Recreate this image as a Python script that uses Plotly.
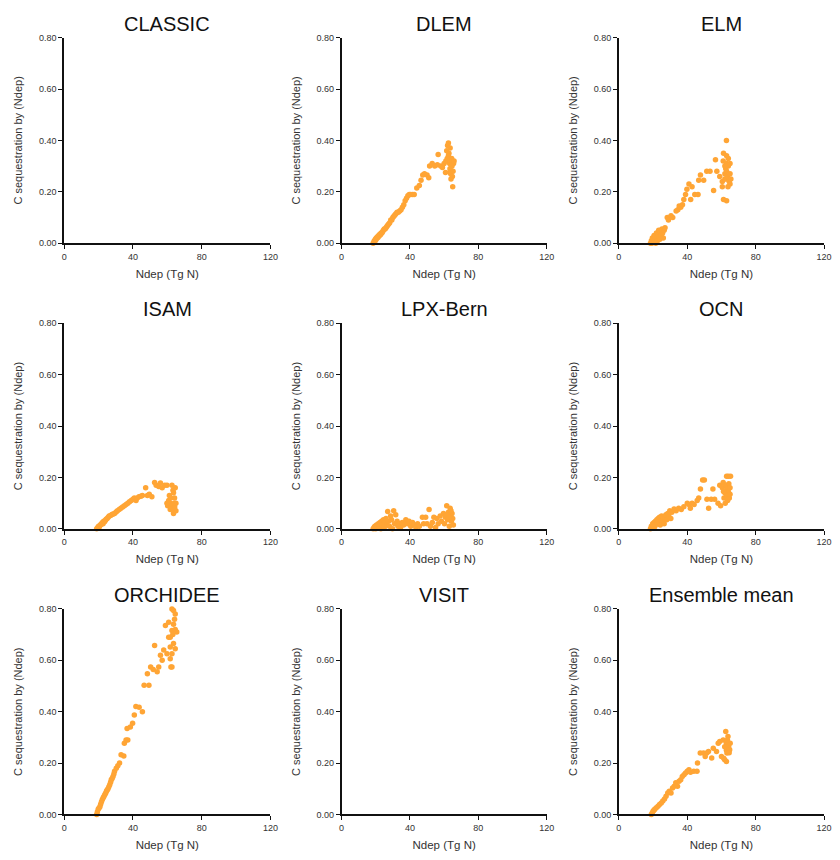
import plotly.graph_objects as go

# ---------------- data ----------------
MODELS = ["CLASSIC", "DLEM", "ELM", "ISAM", "LPX-Bern", "OCN", "ORCHIDEE", "VISIT", "Ensemble mean"]

X_TICKS = [0, 40, 80, 120]
Y_TICKS = [0.0, 0.2, 0.4, 0.6, 0.8]

CLASSIC = []
VISIT = []

DLEM = [(18.5, 0.0), (19.0, 0.005), (19.2, 0.01), (19.5, 0.008), (19.8, 0.015), (20.0, 0.012),
        (20.3, 0.02), (20.6, 0.018), (21.0, 0.025), (21.3, 0.022), (21.7, 0.03), (22.0, 0.028),
        (22.4, 0.035), (22.8, 0.033), (23.2, 0.04), (23.6, 0.04), (24.0, 0.045), (24.5, 0.05),
        (25.0, 0.055), (25.5, 0.055), (26.0, 0.06), (26.5, 0.065), (27.0, 0.07), (27.6, 0.075),
        (28.2, 0.08), (28.8, 0.09), (29.4, 0.09), (30.0, 0.1), (30.6, 0.105), (31.2, 0.11),
        (31.8, 0.115), (32.5, 0.12), (33.2, 0.12), (34.0, 0.125), (34.8, 0.13), (35.6, 0.14),
        (36.4, 0.15), (37.2, 0.165), (38.0, 0.175), (38.8, 0.185), (39.6, 0.19), (40.4, 0.19),
        (41.5, 0.19), (42.5, 0.19), (44.0, 0.215), (45.5, 0.225), (46.5, 0.245), (47.5, 0.265),
        (48.5, 0.27), (50.0, 0.265), (51.0, 0.255), (51.5, 0.3), (53.0, 0.31), (54.5, 0.3),
        (56.0, 0.305), (56.5, 0.345), (58.0, 0.3), (59.0, 0.295), (60.0, 0.31), (61.0, 0.32),
        (61.5, 0.36), (62.0, 0.38), (62.5, 0.39), (62.8, 0.35), (63.0, 0.33), (63.2, 0.31),
        (63.4, 0.29), (63.6, 0.28), (63.8, 0.27), (64.0, 0.25), (64.2, 0.32), (64.4, 0.33),
        (64.6, 0.3), (64.8, 0.26), (65.0, 0.22), (65.2, 0.28), (65.5, 0.31), (62.5, 0.34),
        (63.5, 0.37), (64.2, 0.3), (60.8, 0.275), (61.8, 0.33), (65.8, 0.32)]

ELM = [(18.5, 0.0), (19.0, 0.01), (19.3, 0.0), (19.6, 0.02), (20.0, 0.005), (20.3, 0.015),
       (20.6, 0.03), (21.0, 0.01), (21.3, 0.025), (21.6, 0.0), (22.0, 0.04), (22.3, 0.02),
       (22.6, 0.01), (23.0, 0.035), (23.3, 0.05), (23.6, 0.025), (24.0, 0.015), (24.4, 0.045),
       (24.8, 0.03), (25.2, 0.055), (25.6, 0.04), (26.0, 0.02), (26.5, 0.05), (27.0, 0.06),
       (28.3, 0.1), (29.0, 0.09), (30.5, 0.107), (31.5, 0.1), (33.5, 0.125), (34.5, 0.13),
       (35.3, 0.145), (36.2, 0.14), (37.2, 0.15), (38.0, 0.17), (39.0, 0.19), (39.8, 0.21),
       (41.0, 0.23), (42.0, 0.17), (42.8, 0.22), (44.4, 0.19), (46.3, 0.19), (46.7, 0.245),
       (47.7, 0.265), (49.6, 0.245), (51.4, 0.28), (53.3, 0.28), (55.4, 0.205), (56.5, 0.325),
       (57.3, 0.28), (59.0, 0.26), (60.5, 0.24), (60.5, 0.22), (61.0, 0.32), (61.2, 0.35),
       (61.2, 0.17), (62.0, 0.25), (62.0, 0.27), (62.5, 0.29), (62.9, 0.4), (63.0, 0.165),
       (63.0, 0.25), (63.0, 0.28), (63.0, 0.31), (63.0, 0.34), (63.5, 0.26), (64.0, 0.3),
       (64.0, 0.33), (64.5, 0.24), (65.0, 0.23), (65.0, 0.27), (65.0, 0.31), (65.5, 0.25),
       (62.0, 0.3), (63.8, 0.22)]

ISAM = [(18.9, 0.0), (19.5, 0.005), (20.0, 0.01), (20.5, 0.008), (21.0, 0.015), (21.4, 0.017),
        (21.8, 0.02), (22.2, 0.025), (22.6, 0.02), (23.0, 0.03), (23.5, 0.028), (24.0, 0.033),
        (24.4, 0.037), (25.0, 0.04), (25.6, 0.045), (26.2, 0.05), (27.0, 0.052), (27.8, 0.056),
        (28.5, 0.058), (29.3, 0.06), (30.2, 0.066), (31.0, 0.07), (32.0, 0.075), (33.0, 0.08),
        (34.0, 0.085), (35.0, 0.09), (36.0, 0.095), (37.0, 0.1), (38.0, 0.105), (39.0, 0.11),
        (40.0, 0.115), (40.8, 0.12), (41.8, 0.11), (42.5, 0.12), (43.5, 0.125), (44.6, 0.127),
        (45.5, 0.13), (47.4, 0.16), (48.4, 0.13), (49.5, 0.135), (51.0, 0.125), (52.6, 0.18),
        (53.5, 0.17), (55.0, 0.165), (56.0, 0.178), (57.0, 0.16), (58.5, 0.17), (59.8, 0.17),
        (59.8, 0.1), (60.2, 0.09), (60.8, 0.11), (61.2, 0.13), (61.7, 0.075), (61.7, 0.1),
        (62.0, 0.12), (62.3, 0.085), (62.7, 0.17), (63.0, 0.095), (63.3, 0.15), (63.6, 0.14),
        (63.6, 0.06), (63.6, 0.075), (64.0, 0.1), (64.3, 0.085), (64.6, 0.16), (65.0, 0.1),
        (65.0, 0.07), (64.2, 0.12)]

LPX = [(18.5, 0.0), (19.0, 0.005), (19.5, 0.01), (20.0, 0.0), (20.5, 0.015), (21.0, 0.005),
       (21.5, 0.02), (22.0, 0.01), (22.5, 0.025), (23.0, 0.0), (23.5, 0.03), (24.0, 0.015),
       (24.5, 0.035), (25.0, 0.005), (25.5, 0.025), (26.0, 0.04), (26.5, 0.015), (27.0, 0.067),
       (27.5, 0.03), (28.0, 0.01), (28.7, 0.05), (29.2, 0.035), (29.8, 0.0), (30.5, 0.07),
       (31.0, 0.02), (31.7, 0.055), (32.5, 0.03), (33.0, 0.01), (33.8, 0.02), (34.5, 0.005),
       (35.5, 0.025), (36.3, 0.015), (37.6, 0.035), (38.5, 0.02), (39.5, 0.03), (40.5, 0.01),
       (41.5, 0.025), (42.5, 0.015), (43.5, 0.005), (44.5, 0.02), (45.5, 0.01), (47.3, 0.045),
       (48.0, 0.02), (49.2, 0.045), (50.0, 0.02), (51.2, 0.075), (52.0, 0.01), (53.1, 0.025),
       (54.0, 0.045), (55.0, 0.005), (55.8, 0.04), (56.5, 0.02), (57.7, 0.05), (58.5, 0.03),
       (59.6, 0.06), (60.2, 0.02), (60.8, 0.045), (61.5, 0.09), (62.0, 0.035), (62.5, 0.065),
       (63.0, 0.01), (63.5, 0.08), (63.8, 0.05), (64.2, 0.03), (64.6, 0.06), (65.0, 0.04),
       (65.4, 0.015), (61.5, 0.055), (62.8, 0.045), (64.0, 0.07)]

OCN = [(18.5, 0.0), (19.0, 0.01), (19.4, 0.005), (19.8, 0.02), (20.2, 0.012), (20.6, 0.025),
       (21.0, 0.008), (21.4, 0.03), (21.8, 0.018), (22.2, 0.035), (22.6, 0.02), (23.0, 0.04),
       (23.4, 0.028), (23.8, 0.045), (24.2, 0.015), (24.6, 0.035), (25.0, 0.05), (25.5, 0.03),
       (26.0, 0.045), (26.5, 0.02), (27.0, 0.04), (27.5, 0.055), (28.0, 0.035), (28.6, 0.06),
       (29.2, 0.05), (29.8, 0.07), (30.4, 0.04), (31.0, 0.065), (32.3, 0.077), (33.5, 0.07),
       (35.0, 0.08), (36.5, 0.075), (38.0, 0.086), (40.0, 0.1), (41.0, 0.095), (41.8, 0.08),
       (42.8, 0.1), (44.0, 0.095), (45.8, 0.11), (46.7, 0.12), (47.7, 0.155), (49.0, 0.19),
       (50.0, 0.19), (51.5, 0.115), (52.5, 0.08), (54.0, 0.115), (55.0, 0.155), (56.0, 0.115),
       (58.0, 0.1), (59.0, 0.17), (59.5, 0.09), (60.5, 0.16), (61.0, 0.18), (61.5, 0.12),
       (62.0, 0.14), (62.2, 0.1), (62.5, 0.17), (63.0, 0.205), (63.0, 0.13), (63.3, 0.155),
       (63.6, 0.11), (64.0, 0.205), (64.0, 0.145), (64.3, 0.175), (64.6, 0.12), (65.0, 0.16),
       (65.0, 0.135), (65.3, 0.205), (61.2, 0.145)]

ORCHIDEE = [(18.9, 0.0), (19.3, 0.01), (19.8, 0.02), (20.3, 0.025), (20.8, 0.03), (21.2, 0.04),
            (21.7, 0.05), (22.2, 0.058), (22.7, 0.065), (23.1, 0.07), (23.6, 0.077), (24.1, 0.083),
            (24.6, 0.09), (25.0, 0.095), (25.5, 0.1), (26.0, 0.108), (26.5, 0.116), (27.0, 0.125),
            (27.4, 0.135), (27.9, 0.14), (28.4, 0.148), (28.9, 0.158), (29.3, 0.168), (30.3, 0.18),
            (31.2, 0.19), (32.2, 0.2), (33.1, 0.232), (34.7, 0.228), (35.0, 0.277), (36.0, 0.29),
            (37.0, 0.29), (36.6, 0.335), (38.5, 0.34), (39.8, 0.355), (40.8, 0.387), (41.7, 0.42),
            (43.6, 0.417), (45.5, 0.4), (46.5, 0.503), (48.4, 0.548), (49.3, 0.503), (50.3, 0.574),
            (51.8, 0.564), (52.6, 0.658), (54.1, 0.555), (55.0, 0.574), (56.0, 0.62), (57.0, 0.6),
            (57.9, 0.64), (58.9, 0.735), (59.8, 0.625), (60.8, 0.69), (60.8, 0.748), (61.7, 0.606),
            (62.1, 0.574), (62.7, 0.8), (62.7, 0.574), (61.7, 0.652), (62.7, 0.716), (63.6, 0.794),
            (63.6, 0.665), (64.6, 0.78), (64.6, 0.72), (65.5, 0.71), (63.6, 0.74), (64.6, 0.645),
            (62.7, 0.625), (61.7, 0.69), (63.2, 0.7), (64.2, 0.76)]

ENSEMBLE = [(19.0, 0.0), (19.5, 0.006), (20.0, 0.013), (20.5, 0.016), (21.0, 0.02), (21.9, 0.026),
            (22.9, 0.032), (23.8, 0.039), (24.8, 0.045), (25.7, 0.052), (26.7, 0.06), (27.6, 0.071),
            (28.6, 0.084), (29.5, 0.09), (30.5, 0.084), (31.4, 0.103), (32.4, 0.11), (33.3, 0.123),
            (34.3, 0.11), (35.2, 0.129), (36.2, 0.135), (37.1, 0.148), (38.1, 0.155), (39.0, 0.161),
            (40.0, 0.168), (41.0, 0.174), (41.9, 0.164), (43.8, 0.168), (45.7, 0.168), (46.0, 0.2),
            (47.6, 0.239), (49.5, 0.239), (50.5, 0.226), (51.4, 0.239), (52.4, 0.245), (54.3, 0.22),
            (55.2, 0.258), (57.1, 0.245), (58.1, 0.277), (59.0, 0.284), (60.0, 0.226), (61.0, 0.29),
            (61.3, 0.219), (61.9, 0.213), (62.5, 0.323), (62.9, 0.25), (62.9, 0.277), (63.8, 0.303),
            (64.2, 0.264), (64.8, 0.252), (65.1, 0.277), (63.2, 0.239), (61.9, 0.264), (62.9, 0.206),
            (63.5, 0.29), (64.5, 0.24)]

SERIES = [CLASSIC, DLEM, ELM, ISAM, LPX, OCN, ORCHIDEE, VISIT, ENSEMBLE]

# ---------------- figure ----------------
W, H = 840, 860
COLS_PX = [(62, 271), (343, 551), (624, 832)]
ROWS_PX = [(33, 241), (322, 530), (611, 819)]
ORANGE = "#FFA535"
FONT = "Liberation Sans, Arial, Helvetica, sans-serif"

fig = go.Figure()
layout = dict(width=W, height=H, margin=dict(l=0, r=0, t=0, b=0),
              paper_bgcolor="white", plot_bgcolor="white", showlegend=False,
              font=dict(family=FONT, color="#222"))
annotations = []

for i, (name, pts) in enumerate(zip(MODELS, SERIES)):
    r, c = divmod(i, 3)
    n = i + 1
    xa = "x" if n == 1 else f"x{n}"
    ya = "y" if n == 1 else f"y{n}"
    xs = [p[0] for p in pts]
    ys = [p[1] for p in pts]
    fig.add_trace(go.Scatter(x=xs, y=ys, mode="markers", xaxis=xa, yaxis=ya,
                             marker=dict(color=ORANGE, size=5.5, line=dict(width=0)),
                             cliponaxis=False))
    x0, x1 = COLS_PX[c]
    y0, y1 = ROWS_PX[r]
    xd = [x0 / W, x1 / W]
    yd = [1 - y1 / H, 1 - y0 / H]
    axis_common = dict(showgrid=False, zeroline=False, showline=True, linecolor="#111",
                       linewidth=1.5, ticks="outside", ticklen=4, tickwidth=1.2,
                       tickcolor="#111", tickfont=dict(size=9, color="#333", family=FONT))
    layout["xaxis" if n == 1 else f"xaxis{n}"] = dict(
        domain=xd, range=[0, 120], tickvals=X_TICKS, anchor=ya,
        title=dict(text="Ndep (Tg N)", font=dict(size=11.5, color="#333"), standoff=9),
        **axis_common)
    layout["yaxis" if n == 1 else f"yaxis{n}"] = dict(
        domain=yd, range=[0, 0.8], tickvals=Y_TICKS, tickformat=".2f", anchor=xa,
        title=dict(text="C sequestration by (Ndep)", font=dict(size=11, color="#333"), standoff=14),
        **axis_common)
    annotations.append(dict(text=name, x=(xd[0] + xd[1]) / 2, y=yd[1], xref="paper", yref="paper",
                            xanchor="center", yanchor="bottom", yshift=1, showarrow=False,
                            font=dict(size=20, color="#111", family=FONT)))

layout["annotations"] = annotations
fig.update_layout(**layout)
fig.write_html("out.html")
